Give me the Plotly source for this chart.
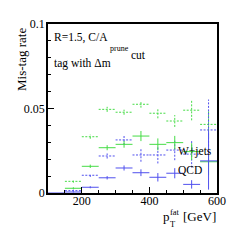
import plotly.graph_objects as go

# ---- data ----
bin_lo = [100, 150, 200, 250, 300, 350, 400, 450, 500, 550]
bin_hi = [150, 200, 250, 300, 350, 400, 450, 500, 550, 600]

wjets_dotted = [None, 0.0069, 0.0333, 0.0495, 0.0478, 0.0525, 0.0472, 0.0426, 0.0490, 0.0406]
wjets_dotted_err = [0, 0.0008, 0.0012, 0.0015, 0.0015, 0.0020, 0.0030, 0.0035, 0.0060, 0.0080]

wjets_solid = [None, 0.0028, 0.0158, 0.0268, 0.0288, 0.0337, 0.0288, 0.0298, 0.0245, 0.0185]
wjets_solid_err = [0, 0.0006, 0.0010, 0.0015, 0.0020, 0.0030, 0.0035, 0.0040, 0.0050, 0.0080]

qcd_dotted = [None, 0.0014, 0.0105, 0.0219, 0.0314, 0.0225, 0.0225, 0.0254, 0.0230, 0.0373]
qcd_dotted_err = [0, 0.0005, 0.0010, 0.0015, 0.0030, 0.0040, 0.0050, 0.0060, 0.0080, 0.0180]

qcd_solid = [0.0, 0.0006, 0.0034, 0.0090, 0.0148, 0.0120, 0.0093, 0.0117, 0.0051, 0.0190]
qcd_solid_err = [0, 0.0003, 0.0006, 0.0010, 0.0015, 0.0020, 0.0025, 0.0030, 0.0025, 0.0170]

x_tickvals = [200, 400, 600]
x_ticktext = ["200", "400", "600"]
y_tickvals = [0, 0.05, 0.1]
y_ticktext = ["0", "0.05", "0.1"]

GREEN = "#46dc46"
BLUE = "#5050ee"
SERIF = "Liberation Serif, Times New Roman, serif"


def segments(vals, errs):
    xs, ys = [], []
    for lo, hi, v, e in zip(bin_lo, bin_hi, vals, errs):
        if v is None:
            continue
        c = 0.5 * (lo + hi)
        xs += [lo, hi, None]
        ys += [v, v, None]
        if e > 0:
            xs += [c, c, None]
            ys += [v - e, v + e, None]
    return xs, ys


fig = go.Figure()
for vals, errs, col, dash in [
    (wjets_dotted, wjets_dotted_err, GREEN, "2px,1.5px"),
    (qcd_dotted, qcd_dotted_err, BLUE, "2px,1.5px"),
    (wjets_solid, wjets_solid_err, GREEN, "solid"),
    (qcd_solid, qcd_solid_err, BLUE, "solid"),
]:
    xs, ys = segments(vals, errs)
    fig.add_trace(go.Scatter(x=xs, y=ys, mode="lines",
                             line=dict(color=col, width=1, dash=dash),
                             hoverinfo="skip", showlegend=False, cliponaxis=False))

fig.update_layout(
    width=242, height=242,
    margin=dict(l=48, r=25, t=24, b=49),
    paper_bgcolor="white", plot_bgcolor="white",
    font=dict(family=SERIF, size=12, color="black"),
    showlegend=False,
)
fig.update_xaxes(range=[100, 600], tickvals=x_tickvals, ticktext=x_ticktext,
                 ticks="inside", ticklen=6, tickwidth=1, tickcolor="black",
                 minor=dict(dtick=50, tick0=100, ticks="inside", ticklen=3, tickcolor="black"),
                 showgrid=False, zeroline=False, showline=True, linecolor="black",
                 linewidth=1.5, mirror=True, tickfont=dict(size=12), ticklabelstandoff=-4)
fig.update_yaxes(range=[0, 0.1], tickvals=y_tickvals, ticktext=y_ticktext,
                 ticks="inside", ticklen=6, tickwidth=1, tickcolor="black",
                 minor=dict(dtick=0.01, tick0=0, ticks="inside", ticklen=3, tickcolor="black"),
                 showgrid=False, zeroline=False, showline=True, linecolor="black",
                 linewidth=1.5, mirror=True, tickfont=dict(size=12), ticklabelstandoff=-1)


def ann(text, x, y, size, xanchor="left", yanchor="middle", angle=0):
    fig.add_annotation(text=text, x=x, y=y, xref="paper", yref="paper",
                       xanchor=xanchor, yanchor=yanchor, showarrow=False,
                       textangle=angle, font=dict(family=SERIF, size=size, color="black"))


def px_x(p):
    return (p - 48) / (242 - 48 - 25)


def px_y(p):
    return (242 - 49 - p) / (242 - 24 - 49)


ann("R=1.5, C/A", px_x(52), px_y(37.5), 11.5)
ann("tag with \u0394m", px_x(52), px_y(63.5), 11.5)
ann("prune", px_x(107.5), px_y(48.5), 8)
ann("cut", px_x(128.5), px_y(55), 11.5)
ann("W+jets", px_x(176), px_y(151), 11.5)
ann("QCD", px_x(176), px_y(170), 11.5)
ann("Mis-tag rate", px_x(22), px_y(60), 13, xanchor="center", yanchor="middle", angle=-90)
ann("p", px_x(161), px_y(216), 13)
ann("fat", px_x(168), px_y(212), 8.5)
ann("T", px_x(168), px_y(223.5), 8.5)
ann("[GeV]", px_x(218), px_y(216), 13, xanchor="right")

fig.write_html("out.html", config={"displayModeBar": False},
               post_script="document.body.style.margin='0';document.body.style.overflow='hidden';")
